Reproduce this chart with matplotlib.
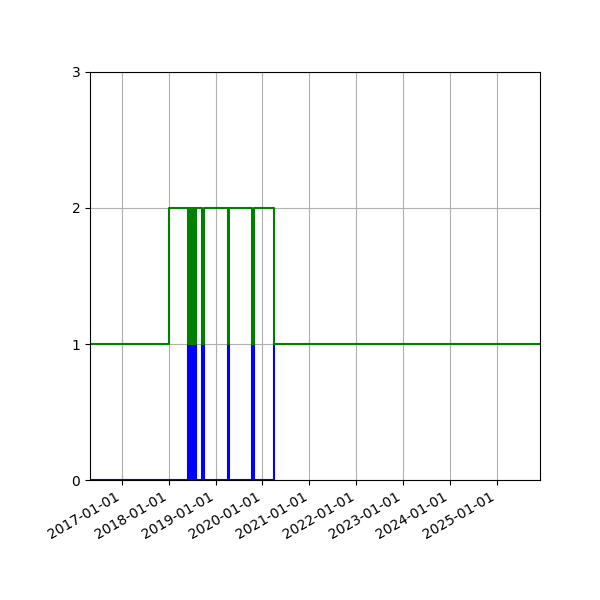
import numpy as np
import pandas as pd
import matplotlib
matplotlib.use("Agg")
import matplotlib.pyplot as plt
import matplotlib.dates as mdates

# --- data: step events (value holds until next date) ---
blue_dates = ["2016-04-28", "2018-06-02", "2018-06-06", "2018-06-09", "2018-06-13",
              "2018-06-17", "2018-06-21", "2018-06-25", "2018-06-29", "2018-07-02",
              "2018-07-06", "2018-07-18", "2018-07-22", "2018-07-25", "2018-07-29",
              "2018-09-20", "2018-10-03", "2019-04-06", "2019-04-15",
              "2019-10-15", "2019-10-26", "2020-04-03"]
blue_vals = [0, 1, 0, 1, 0,
             1, 0, 1, 0, 1,
             0, 1, 0, 1, 0,
             1, 0, 1, 0,
             1, 0, 1]

green_dates = ["2016-04-28", "2018-01-05", "2018-06-02", "2018-06-06", "2018-06-09",
               "2018-06-13", "2018-06-17", "2018-06-21", "2018-06-25", "2018-06-29",
               "2018-07-02", "2018-07-06", "2018-07-18", "2018-07-22", "2018-07-25",
               "2018-07-29", "2018-09-20", "2018-10-03", "2019-04-06", "2019-04-15",
               "2019-10-15", "2019-10-26", "2020-04-03", "2025-12-01"]
green_vals = [1, 2, 1, 2, 1,
              2, 1, 2, 1, 2,
              1, 2, 1, 2, 1,
              2, 1, 2, 1, 2,
              1, 2, 1, 1]

x_start = "2016-04-28"
x_end = "2025-12-01"
tick_years = list(range(2017, 2026))

fig = plt.figure(figsize=(6, 6), dpi=100)
ax = fig.add_axes([0.15, 0.2, 0.75, 0.68])

ax.plot(pd.to_datetime(blue_dates), blue_vals, color="blue", drawstyle="steps-post")
ax.plot(pd.to_datetime(green_dates), green_vals, color="green", drawstyle="steps-post")

ax.set_xlim(pd.Timestamp(x_start), pd.Timestamp(x_end))
ax.set_ylim(0, 3)
ax.set_yticks([0, 1, 2, 3])
ax.set_xticks([pd.Timestamp(f"{y}-01-01") for y in tick_years])
ax.xaxis.set_major_formatter(mdates.DateFormatter("%Y-%m-%d"))
ax.grid(True)

for lbl in ax.get_xticklabels():
    lbl.set_rotation(30)
    lbl.set_ha("right")

fig.savefig("out.png")
